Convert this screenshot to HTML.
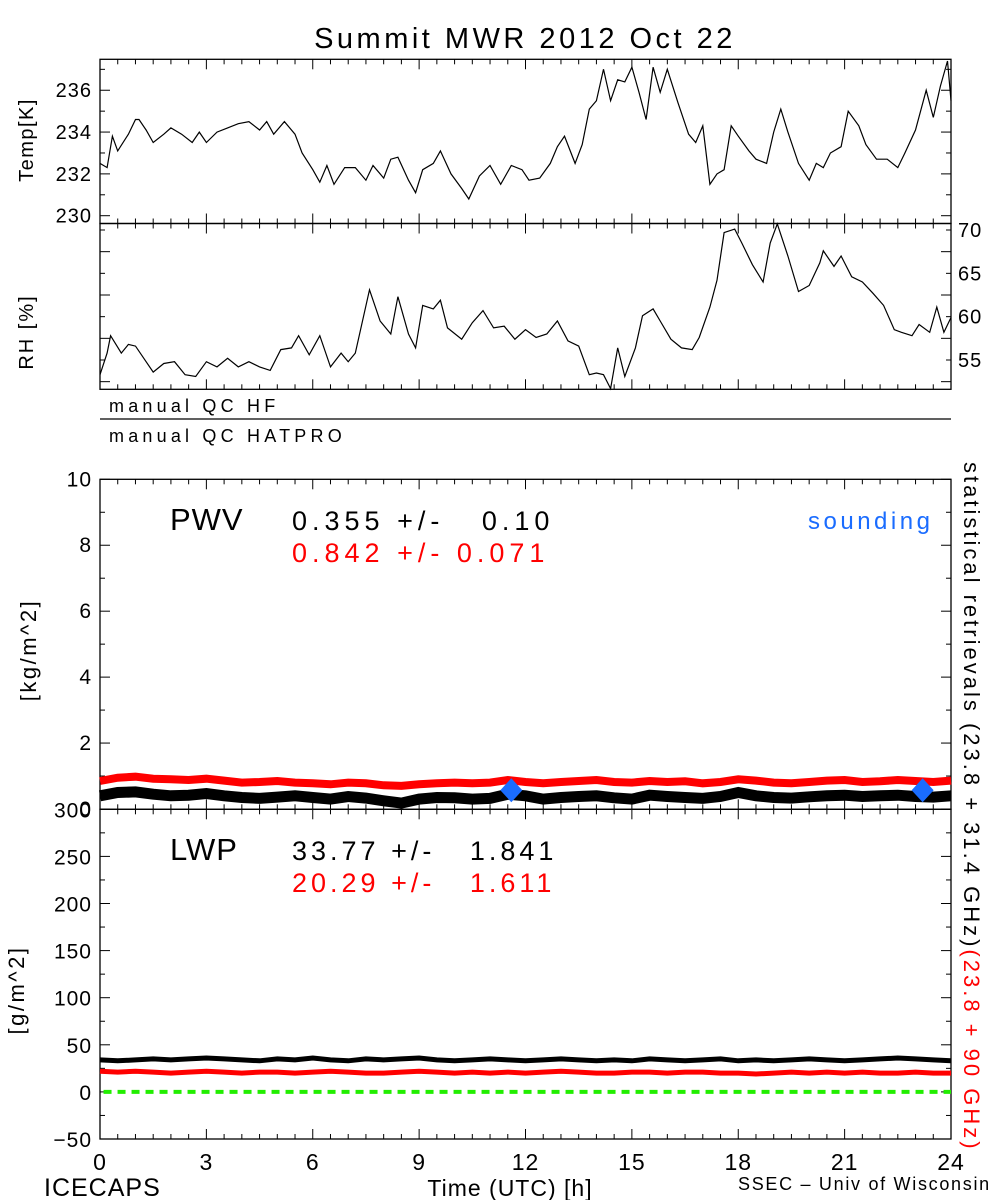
<!DOCTYPE html>
<html><head><meta charset="utf-8"><style>
html,body{margin:0;padding:0;background:#fff;}
svg{display:block;font-family:"Liberation Sans",sans-serif;}
</style></head><body>
<svg id="chart" width="1000" height="1200" viewBox="0 0 1000 1200" xmlns="http://www.w3.org/2000/svg">
<rect x="0" y="0" width="1000" height="1200" fill="#fff"/>
<text x="525" y="48" font-size="29" text-anchor="middle" letter-spacing="3.5">Summit MWR 2012 Oct 22</text>
<g id="g"></g>
</svg>
<script>
const tempHours=[0,0.2,0.35,0.5,0.8,1,1.1,1.3,1.5,1.8,2,2.3,2.6,2.8,3,3.3,3.6,3.9,4.2,4.5,4.7,4.9,5.2,5.5,5.7,6,6.2,6.4,6.6,6.9,7.2,7.5,7.7,8,8.2,8.4,8.7,8.9,9.1,9.4,9.6,9.9,10.2,10.4,10.7,11,11.3,11.6,11.9,12.1,12.4,12.7,12.9,13.1,13.4,13.6,13.8,14,14.2,14.4,14.6,14.8,15,15.2,15.4,15.6,15.8,16,16.3,16.6,16.8,17,17.2,17.4,17.6,17.8,18,18.3,18.5,18.8,19,19.2,19.4,19.7,20,20.2,20.4,20.6,20.9,21.1,21.4,21.6,21.9,22.2,22.5,22.7,23,23.3,23.5,23.7,23.9,24];
const tempValues=[232.5,232.3,233.8,233.1,233.9,234.6,234.6,234.1,233.5,233.9,234.2,233.9,233.5,234.0,233.5,234.0,234.2,234.4,234.5,234.1,234.5,233.9,234.5,233.9,233.0,232.2,231.6,232.4,231.5,232.3,232.3,231.7,232.4,231.8,232.7,232.8,231.7,231.1,232.2,232.5,233.1,232.0,231.3,230.8,231.9,232.4,231.5,232.4,232.2,231.7,231.8,232.5,233.3,233.8,232.5,233.4,235.1,235.5,237.0,235.5,236.5,236.4,237.1,235.9,234.6,237.1,235.9,237.0,235.4,233.9,233.5,234.3,231.5,232.0,232.2,234.3,233.8,233.1,232.7,232.5,234.0,235.1,234.0,232.5,231.7,232.5,232.3,233.0,233.3,235.0,234.3,233.4,232.7,232.7,232.3,233.0,234.1,236.0,234.7,236.2,237.4,235.5];
const rhHours=[0,0.2,0.3,0.6,0.8,1,1.3,1.5,1.8,2.1,2.4,2.7,3,3.3,3.6,3.9,4.2,4.5,4.8,5.1,5.4,5.6,5.9,6.2,6.5,6.8,7,7.2,7.6,7.9,8.2,8.4,8.7,8.9,9.1,9.4,9.6,9.8,10.2,10.5,10.8,11.1,11.4,11.7,12,12.3,12.6,12.9,13.2,13.5,13.8,14,14.2,14.4,14.6,14.8,15.1,15.3,15.6,15.8,16.1,16.4,16.7,16.9,17.2,17.4,17.6,17.9,18.1,18.4,18.7,18.9,19.1,19.4,19.7,20,20.3,20.4,20.7,20.9,21.2,21.5,21.8,22.1,22.4,22.6,22.9,23.1,23.4,23.6,23.8,24];
const rhValues=[53.3,55.8,57.8,55.8,56.8,56.6,54.8,53.6,54.6,54.8,53.3,53.1,54.8,54.2,55.2,54.2,54.8,54.2,53.8,56.2,56.4,57.8,55.6,57.8,54.2,55.8,54.8,55.8,63.1,59.5,58.0,62.3,58.0,56.4,61.3,60.9,61.9,58.7,57.4,59.3,60.7,58.7,58.9,57.4,58.5,57.6,58.0,59.5,57.2,56.6,53.3,53.5,53.3,51.7,56.4,53.1,56.4,60.1,60.9,59.5,57.4,56.4,56.2,57.6,61.1,64.2,69.7,70.1,68.5,66.0,64.0,68.5,70.7,67.0,62.9,63.6,66.2,67.6,65.8,67.0,64.6,64.0,62.7,61.3,58.5,58.2,57.8,59.1,58.2,61.1,58.2,59.9];
const pwvBlack=[0.40,0.50,0.52,0.45,0.40,0.42,0.47,0.40,0.35,0.32,0.36,0.40,0.35,0.30,0.38,0.33,0.25,0.18,0.30,0.35,0.34,0.30,0.32,0.45,0.40,0.30,0.35,0.38,0.40,0.34,0.30,0.42,0.38,0.35,0.32,0.38,0.50,0.40,0.35,0.33,0.37,0.40,0.42,0.38,0.40,0.42,0.38,0.36,0.40];
const pwvRed=[0.85,0.95,0.98,0.92,0.90,0.88,0.92,0.86,0.80,0.82,0.85,0.80,0.78,0.75,0.80,0.78,0.72,0.70,0.75,0.78,0.80,0.78,0.80,0.88,0.82,0.78,0.82,0.85,0.88,0.82,0.80,0.85,0.82,0.84,0.78,0.82,0.90,0.86,0.80,0.78,0.82,0.86,0.88,0.82,0.84,0.88,0.85,0.82,0.86];
const lwpBlack=[34,33,34,35,34,35,36,35,34,33,35,34,36,34,33,35,34,35,36,34,33,34,35,34,33,34,35,34,33,34,33,35,34,33,34,35,33,34,33,34,35,34,33,34,35,36,35,34,33];
const lwpRed=[22,21,22,21,20,21,22,21,20,21,21,20,21,22,21,20,20,21,22,21,20,21,20,21,20,21,22,21,20,20,21,21,20,21,21,20,20,19,20,21,20,21,20,21,20,20,21,20,20];
const soundHours=[11.6,23.2];
const soundPwv=[0.57,0.57];
const xTicks=[0,3,6,9,12,15,18,21,24];
const tempTicks=[230,232,234,236];
const rhTicks=[55,60,65,70];
const pwvTicks=[0,2,4,6,8,10];
const lwpTicks=[-50,0,50,100,150,200,250,300];

const NS="http://www.w3.org/2000/svg";
const G=document.getElementById('g');
const X0=100,X1=951;
const xs=h=>X0+(X1-X0)*h/24;
function lin(d0,d1,p0,p1){return v=>p0+(v-d0)*(p1-p0)/(d1-d0);}
const yT=lin(230,237.48,215.7,59.3);
const yR=lin(55,70,360,230);
const yP=lin(0,10,809,479.3);
const yL=lin(-50,300,1139,809.3);
function el(tag,attrs,parent){const e=document.createElementNS(NS,tag);for(const k in attrs)e.setAttribute(k,attrs[k]);(parent||G).appendChild(e);return e;}
function txt(s,attrs){const e=el('text',attrs);e.textContent=s;return e;}
function pathOf(hours,vals,ys){return hours.map((h,i)=>(i?'L':'M')+xs(h).toFixed(1)+' '+ys(vals[i]).toFixed(1)).join(' ');}
function halfHours(n){const a=[];for(let i=0;i<n;i++)a.push(i*0.5);return a;}

function frame(name,top,bot){const r=el('rect',{x:X0,y:top,width:X1-X0,height:bot-top,fill:'none',stroke:'#000','stroke-width':1.3});

}
frame('temp-panel',59.3,223.5);
frame('rh-panel',223.5,389.3);
frame('pwv-panel',479.3,809.3);
frame('lwp-panel',809.3,1139);
el('line',{x1:X0,x2:X1,y1:419,y2:419,stroke:'#000','stroke-width':1.3});

function xTickSet(top,bot){for(let k=0;k<=48;k++){const x=xs(k*0.5);const len=(k%6===0)?10:5;
el('line',{x1:x,x2:x,y1:bot,y2:bot-len,stroke:'#000','stroke-width':1});
el('line',{x1:x,x2:x,y1:top,y2:top+len,stroke:'#000','stroke-width':1});}}
xTickSet(59.3,223.5);xTickSet(223.5,389.3);xTickSet(479.3,809.3);xTickSet(809.3,1139);
function yTickSet(ys,from,to,step,majorEvery){let i=0;for(let v=from;v<=to+1e-9;v+=step,i++){const y=ys(v);const len=(i%majorEvery===0)?10:5;
el('line',{x1:X0,x2:X0+len,y1:y,y2:y,stroke:'#000','stroke-width':1});
el('line',{x1:X1,x2:X1-len,y1:y,y2:y,stroke:'#000','stroke-width':1});}}
yTickSet(yT,230,237,1,2);
yTickSet(yR,52.5,70,2.5,2);
yTickSet(yP,0,10,1,2);
yTickSet(yL,-50,300,25,2);

tempTicks.forEach(v=>{const t=txt(String(v),{x:92,y:yT(v)+7,'font-size':20,'text-anchor':'end','letter-spacing':1});

});
rhTicks.forEach(v=>{const t=txt(String(v),{x:958,y:yR(v)+7,'font-size':20,'text-anchor':'start','letter-spacing':1});

});
pwvTicks.forEach(v=>{const t=txt(String(v),{x:92,y:yP(v)+7,'font-size':21,'text-anchor':'end','letter-spacing':1});

});
lwpTicks.forEach(v=>{const t=txt(String(v).replace('-','\u2212'),{x:92,y:yL(v)+8,'font-size':21,'text-anchor':'end','letter-spacing':1});

});
xTicks.forEach(h=>{const t=txt(String(h),{x:xs(h),y:1170,'font-size':23,'text-anchor':'middle','letter-spacing':1});

});

const tp=el('path',{d:pathOf(tempHours,tempValues,yT),fill:'none',stroke:'#000','stroke-width':1.2});


const rp=el('path',{d:pathOf(rhHours,rhValues,yR),fill:'none',stroke:'#000','stroke-width':1.2});


const hh=halfHours(49);
const pr=el('path',{d:pathOf(hh,pwvRed,yP),fill:'none',stroke:'#ff0000','stroke-width':8});


const pb=el('path',{d:pathOf(hh,pwvBlack,yP),fill:'none',stroke:'#000','stroke-width':11});


const lb=el('path',{d:pathOf(hh,lwpBlack,yL),fill:'none',stroke:'#000','stroke-width':5});


const lr=el('path',{d:pathOf(hh,lwpRed,yL),fill:'none',stroke:'#ff0000','stroke-width':5});


const zl=el('line',{x1:xs(0.1),x2:X1,y1:yL(0),y2:yL(0),stroke:'#22ee00','stroke-width':4,'stroke-dasharray':'8,6'});


soundHours.forEach((h,i)=>{const x=xs(h),y=yP(soundPwv[i]);
const d=el('polygon',{points:`${x},${y-12} ${x+11},${y} ${x},${y+12} ${x-11},${y}`,fill:'#1a6cff'});

});
</script>
<svg style="position:absolute;left:0;top:0" width="1000" height="1200" xmlns="http://www.w3.org/2000/svg" font-family="Liberation Sans, sans-serif">
<text transform="translate(33,140) rotate(-90)" font-size="20" text-anchor="middle" letter-spacing="1.5">Temp[K]</text>
<text transform="translate(33,332) rotate(-90)" font-size="20" text-anchor="middle" letter-spacing="2">RH [%]</text>
<text x="109" y="412" font-size="18" letter-spacing="4.2">manual QC HF</text>
<text x="109" y="442" font-size="18" letter-spacing="4.2">manual QC HATPRO</text>
<text transform="translate(36,650) rotate(-90)" font-size="22" text-anchor="middle" letter-spacing="2.5">[kg/m^2]</text>
<text transform="translate(24,990) rotate(-90)" font-size="22" text-anchor="middle" letter-spacing="2.5">[g/m^2]</text>
<text x="170" y="530" font-size="31" letter-spacing="1">PWV</text>
<text x="292" y="530" font-size="27" xml:space="preserve" letter-spacing="5">0.355 +/-   0.10</text>
<text x="292" y="562" font-size="27" fill="#ff0000" xml:space="preserve" letter-spacing="5">0.842 +/- 0.071</text>
<text x="808" y="529" font-size="24" fill="#1a6cff" letter-spacing="3.5">sounding</text>
<text x="170" y="860" font-size="31" letter-spacing="1">LWP</text>
<text x="292" y="860" font-size="27" xml:space="preserve" letter-spacing="4">33.77 +/-   1.841</text>
<text x="292" y="892" font-size="27" fill="#ff0000" xml:space="preserve" letter-spacing="4">20.29 +/-   1.611</text>
<text transform="translate(964,462) rotate(90)" font-size="22" letter-spacing="3">statistical retrievals (23.8 + 31.4 GHz)<tspan fill="#ff0000">(23.8 + 90 GHz)</tspan></text>
<text x="44" y="1196" font-size="25" letter-spacing="1">ICECAPS</text>
<text x="510" y="1196" font-size="23" text-anchor="middle" letter-spacing="1">Time (UTC) [h]</text>
<text x="738" y="1190" font-size="18" letter-spacing="1.7">SSEC – Univ of Wisconsin</text>
</svg>
</body></html>
